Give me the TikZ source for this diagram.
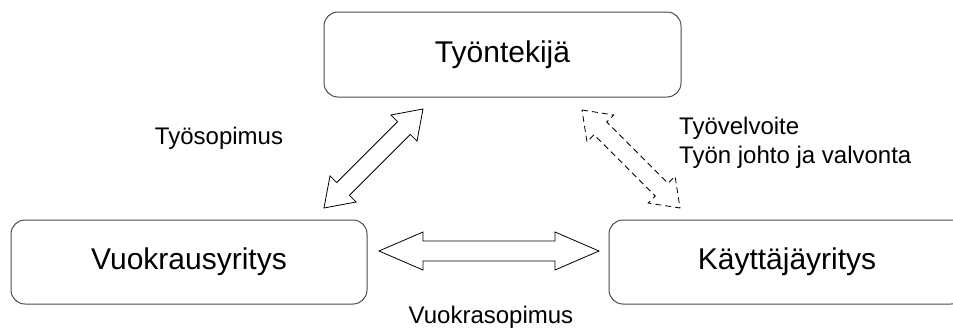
\documentclass[tikz,border=0pt]{standalone}
\usepackage{fontspec}
\setmainfont{Liberation Sans}
\usetikzlibrary{calc}
\newcommand\mydblarrow[6]{% #1 style, #2 from, #3 to, #4 head length, #5 head half width, #6 shaft half width
\draw[#1] let \p1=(#2), \p2=(#3), \n1={atan2(\y2-\y1,\x2-\x1)} in
 (\p1) -- ($(\p1)+(\n1:#4pt)+(\n1+90:#5pt)$) -- ($(\p1)+(\n1:#4pt)+(\n1+90:#6pt)$)
 -- ($(\p2)+(\n1:-#4pt)+(\n1+90:#6pt)$) -- ($(\p2)+(\n1:-#4pt)+(\n1+90:#5pt)$) -- (\p2)
 -- ($(\p2)+(\n1:-#4pt)+(\n1-90:#5pt)$) -- ($(\p2)+(\n1:-#4pt)+(\n1-90:#6pt)$)
 -- ($(\p1)+(\n1:#4pt)+(\n1-90:#6pt)$) -- ($(\p1)+(\n1:#4pt)+(\n1-90:#5pt)$) -- cycle;}
\tikzset{
  party/.style={draw=black!70, line width=1pt, rounded corners=14pt, inner sep=0pt,
    font=\fontsize{30}{36}\selectfont},
  lbl/.style={inner sep=0pt, font=\fontsize{24}{29}\selectfont},
  solidarrow/.style={draw=black, line width=0.8pt, fill=white},
  dashedarrow/.style={draw=black, line width=0.8pt, fill=white, dash pattern=on 6pt off 4pt},
}
\begin{document}
\begin{tikzpicture}[x=1pt,y=-1pt]
\clip (0,0) rectangle (953,327);
\fill[white] (0,0) rectangle (953,327);
% parties
\node[party, minimum width=357pt, minimum height=85pt] (tyontekija) at (502.5,54.5) {Työntekijä};
\node[party, minimum width=356pt, minimum height=84pt] (vuokraus) at (189,262) {Vuokrausyritys};
\node[party, minimum width=356pt, minimum height=84pt] (kayttaja) at (787,262) {Käyttäjäyritys};
% arrow ends
\coordinate (s1) at (324,208);
\coordinate (s2) at (423,109);
\coordinate (d1) at (582,110);
\coordinate (d2) at (680,208);
\coordinate (h1) at (379,251);
\coordinate (h2) at (599,251);
% connectors
\mydblarrow{solidarrow}{s1}{s2}{27}{18.5}{9}
\mydblarrow{dashedarrow}{d1}{d2}{26}{19}{9}
\mydblarrow{solidarrow}{h1}{h2}{44}{19}{10}
% labels
\node[lbl] (tyosopimus) at (219,138) {Työsopimus};
\node[lbl, anchor=west, align=left] (tyovelvoite) at (679,142.5) {Työvelvoite\\Työn johto ja valvonta};
\node[lbl] (vuokrasopimus) at (491,317) {Vuokrasopimus};
\end{tikzpicture}
\end{document}
